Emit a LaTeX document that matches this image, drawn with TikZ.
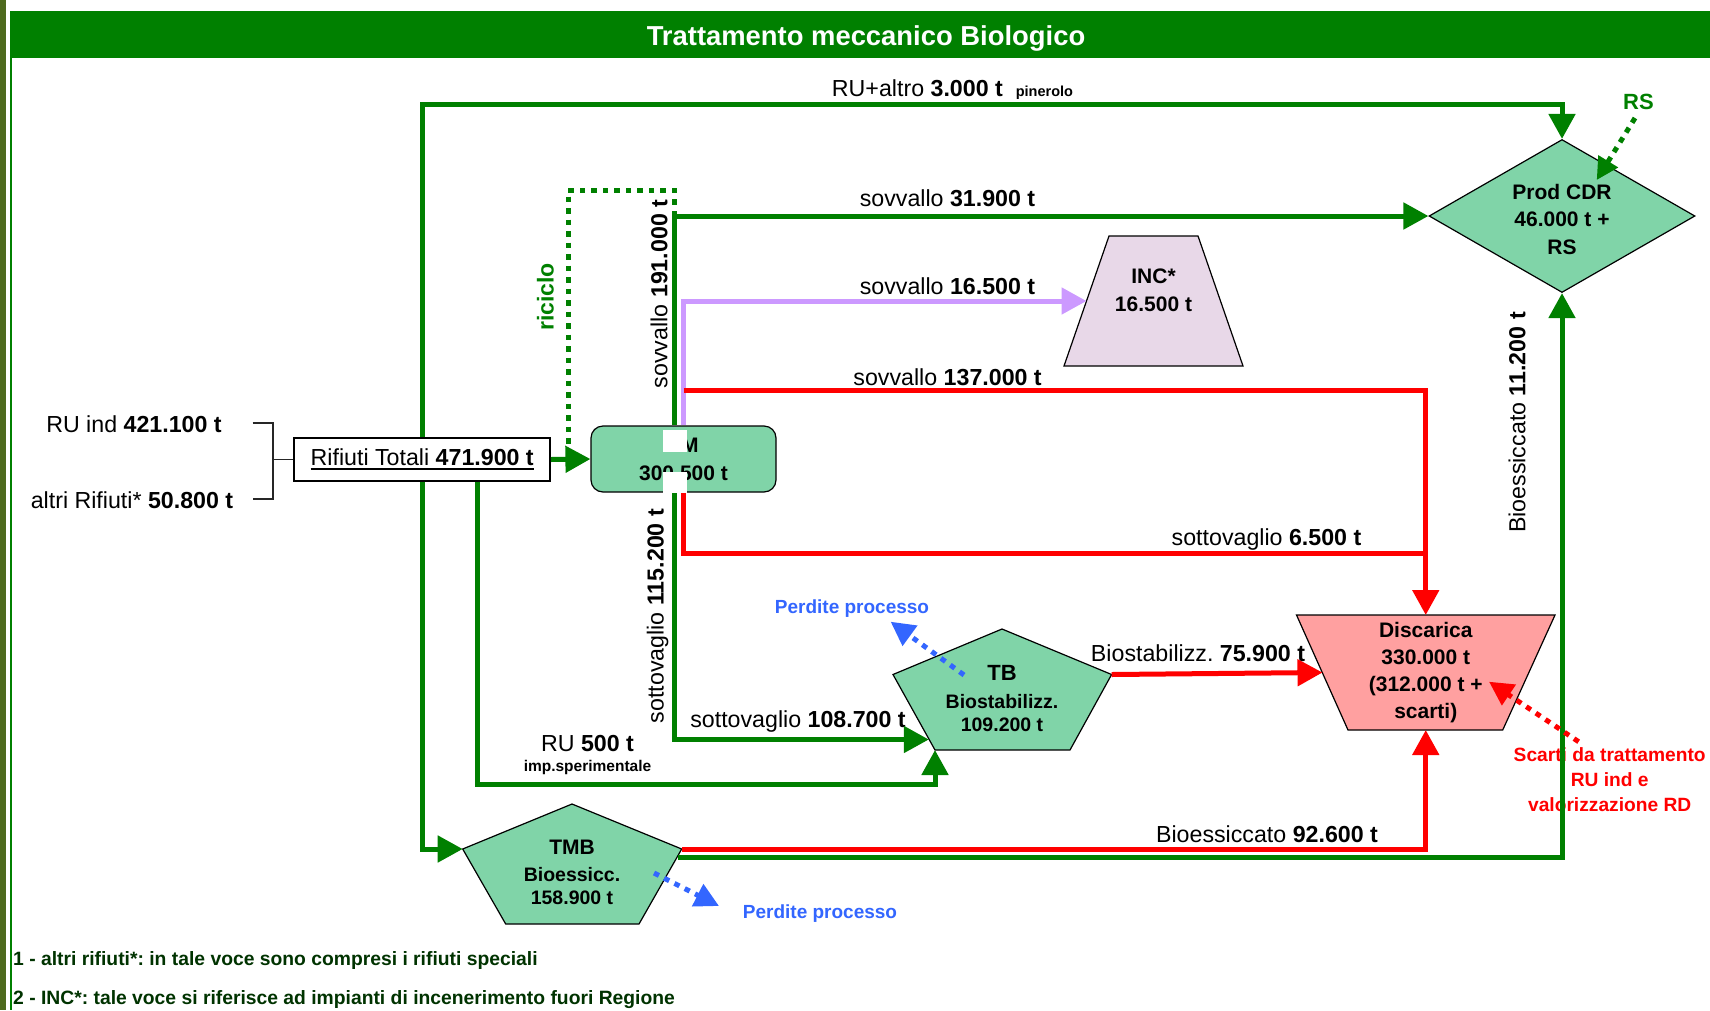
\documentclass[tikz,border=0pt]{standalone}
\usepackage{fontspec}
\setmainfont{Liberation Sans}
\usetikzlibrary{arrows.meta,shapes.geometric}

\definecolor{flowgreen}{RGB}{0,128,0}
\definecolor{plantgreen}{RGB}{128,212,168}
\definecolor{incpink}{RGB}{232,216,232}
\definecolor{discpink}{RGB}{255,160,160}
\definecolor{lossblue}{RGB}{51,102,255}
\definecolor{lilac}{RGB}{204,153,255}
\definecolor{borderolive}{RGB}{78,106,30}
\definecolor{notegreen}{RGB}{0,51,0}

\newcommand{\flowfont}{\fontsize{23.2}{27}\selectfont}
\newcommand{\plantfont}{\bfseries\fontsize{21}{27.5}\selectfont}
\newcommand{\thickunder}[1]{\leavevmode\vtop{\hbox{#1}\kern1.5pt\hrule height 2.5pt}}
\frenchspacing

\tikzset{
  flow/.style={line width=5pt},
  flowg/.style={flow, draw=flowgreen},
  flowr/.style={flow, draw=red},
  flowp/.style={flow, draw=lilac},
  flowtip/.style={-{Triangle[length=25pt,width=26pt]}},
  losstip/.style={-{Triangle[length=24pt,width=24pt]}},
  dotline/.style={line width=5pt, dash pattern=on 5.5pt off 6pt},
  plant/.style={draw=black, line width=1.2pt, fill=plantgreen},
  planttext/.style={font=\plantfont, align=center, inner sep=0pt},
  lbl/.style={font=\flowfont, inner sep=0pt, anchor=base},
  vlbl/.style={font=\flowfont, inner sep=0pt, rotate=90},
  losstext/.style={font=\bfseries\fontsize{19}{23}\selectfont, text=lossblue, inner sep=0pt, anchor=base},
  notetext/.style={font=\bfseries\fontsize{19.3}{23}\selectfont, text=notegreen, inner sep=0pt, anchor=base west},
  brk/.style={draw=black!85, line width=1.5pt}
}

\begin{document}
\begin{tikzpicture}[x=1pt, y=-1pt]
  \fill[white] (0,0) rectangle (1710,1010);
  \useasboundingbox (0,0) rectangle (1710,1010);
  % frame and title
  \fill[borderolive] (0,0) rectangle (6,1010);
  \fill[flowgreen] (9.5,11) rectangle (12,1010);
  \fill[flowgreen] (9.5,11) rectangle (1710,58);
  \node[text=white, font=\bfseries\fontsize{27.4}{30}\selectfont] (title) at (866,38.5) {Trattamento meccanico Biologico};

  % plants
  \node[draw=black, line width=1.5pt, fill=white, minimum width=256, minimum height=43, inner sep=0pt, font=\flowfont] (tot) at (422.2,459.5) {\thickunder{Rifiuti Totali \textbf{471.900 t}}};
  \node[plant, rounded corners=12pt, minimum width=185, minimum height=66, planttext, font=\bfseries\fontsize{21}{28}\selectfont] (tm) at (683.5,459) {TM\\300.500 t};
  \node[plant, diamond, aspect=1.75, minimum width=266, minimum height=153, planttext] (cdr) at (1562,216) {\rule{0pt}{22pt}Prod CDR\\46.000 t +\\RS};

  \coordinate (incW) at (1086.5,301);
  \draw[plant, fill=incpink] (1109,236) -- (1198,236) -- (1243,366) -- (1064,366) -- cycle;
  \node[planttext] (inc) at (1153.5,290.5) {INC*\\16.500 t};

  \coordinate (discN) at (1425.75,615);
  \coordinate (discS) at (1425.75,730);
  \coordinate (discW) at (1322.5,672.5);
  \draw[plant, fill=discpink] (1296.5,615) -- (1555,615) -- (1502.7,730) -- (1348,730) -- cycle;
  \node[planttext, font=\bfseries\fontsize{21}{27}\selectfont] (disc) at (1425.75,672.5) {Discarica\\330.000 t\\(312.000 t +\\scarti)};

  \coordinate (tbE) at (1111.6,674.5);
  \coordinate (tbLL) at (935,750);
  \coordinate (tbIn) at (928.8,739.5);
  \draw[plant] (1002,629) -- (tbE) -- (1070,750) -- (tbLL) -- (893,674.5) -- cycle;
  \node[planttext, font=\bfseries\fontsize{19.5}{23}\selectfont] (tb) at (1002,698.5) {{\fontsize{22}{23}\selectfont TB}\\[4.5pt]Biostabilizz.\\109.200 t};

  \coordinate (tmbW) at (462.7,849);
  \coordinate (tmbE) at (681.7,849.5);
  \coordinate (tmbE2) at (678,857.5);
  \draw[plant] (572,804) -- (681.7,849) -- (639,924) -- (505.7,924) -- (tmbW) -- cycle;
  \node[planttext, font=\bfseries\fontsize{19.5}{23}\selectfont] (tmb) at (572,872.5) {{\fontsize{21}{23}\selectfont TMB}\\[4pt]Bioessicc.\\158.900 t};

  % labels
  \node[lbl] (labru) at (952.5,96) {RU+altro \textbf{3.000 t}\hspace{13pt}{\fontsize{14.5}{14}\selectfont\bfseries pinerolo}};
  \node[lbl] (lab31) at (947.5,206.5) {sovvallo \textbf{31.900 t}};
  \node[lbl] (lab16) at (947.5,294) {sovvallo \textbf{16.500 t}};
  \node[lbl] (lab137) at (947.6,385) {sovvallo \textbf{137.000 t}};
  \node[lbl] (lab6) at (1266.5,545) {sottovaglio \textbf{6.500 t}};
  \node[lbl] (lab108) at (798,727) {sottovaglio \textbf{108.700 t}};
  \node[lbl] (lab500) at (587.5,751.5) {RU \textbf{500 t}};
  \node[lbl, font=\bfseries\fontsize{15.5}{18}\selectfont] (labimp) at (587.5,771.5) {imp.sperimentale};
  \node[lbl] (lab75) at (1198,661) {Biostabilizz. \textbf{75.900 t}};
  \node[lbl] (lab92) at (1267,842) {Bioessiccato \textbf{92.600 t}};
  \node[vlbl] (lab11) at (1517,422.5) {Bioessiccato \textbf{11.200 t}};
  \node[vlbl] (lab191) at (659,294) {sovvallo \textbf{191.000 t}};
  \node[vlbl] (lab115) at (657.5,616) {sottovaglio \textbf{115.200 t}};
  \node[vlbl, text=flowgreen, font=\bfseries\fontsize{23}{27}\selectfont] (labric) at (545.5,297) {riciclo};
  \node[lbl] (ruind) at (134,432) {RU ind \textbf{421.100 t}};
  \node[lbl] (altri) at (132,508) {altri Rifiuti* \textbf{50.800 t}};
  \node[losstext] (loss1) at (852,613) {Perdite processo};
  \node[losstext] (loss2) at (820,918) {Perdite processo};
  \node[lbl, text=flowgreen, font=\bfseries\fontsize{22}{26}\selectfont] (rs) at (1638.5,109) {RS};
  \node[text=red, font=\bfseries\fontsize{19.2}{25}\selectfont, align=center, inner sep=0pt] (scarti) at (1609.7,780) {Scarti da trattamento\\RU ind e\\valorizzazione RD};
  \node[notetext] (note1) at (13,965) {1 - altri rifiuti*: in tale voce sono compresi i rifiuti speciali};
  \node[notetext] (note2) at (13,1004) {2 - INC*: tale voce si riferisce ad impianti di incenerimento fuori Regione};

  % bracket of the inputs
  \coordinate (brkTop) at (252.5,423);
  \coordinate (brkBot) at (252.5,499);
  \coordinate (brkMid) at (273,459.5);
  \draw[brk] (brkTop) -| (brkMid |- brkBot) -- (brkBot);
  \draw[brk] (brkMid) -- (tot.west);

  % flows
  \coordinate (ruline) at (422.5,104.5);
  \coordinate (rusper) at (477.5,784.5);
  \coordinate (tmg) at (674.5,216);
  \coordinate (tmr) at (683.5,390.5);
  \coordinate (sotto6) at (0,553.5);
  \coordinate (ricEnd) at (568,447);
  \draw[flowg, flowtip] (tot.north -| ruline) |- (cdr.north |- ruline) -- (cdr.north);
  \draw[flowg, flowtip] (tot.south -| ruline) |- (tmbW);
  \draw[flowg, flowtip] (tot.south -| rusper) |- (tbLL |- rusper) -- (tbLL);
  \draw[flowg, flowtip] (tot.east) -- (tm.west);
  \draw[flowg, flowtip] (tm.north -| tmg) |- (cdr.west);
  \draw[flowg, dotline] (tmg) -- ++(0,-25.5) -| (ricEnd);
  \draw[flowp, flowtip] (tm.north -| tmr) |- (incW);
  \draw[flowr, flowtip] (tmr) -| (discN);
  \draw[flowr] (tm.south -| tmr) |- (discN |- sotto6);
  \draw[flowg, flowtip] (tm.south -| tmg) |- (tbIn);
  \draw[flowr, flowtip] (tbE) -- (discW);
  \draw[flowr, flowtip] (tmbE) -| (discS);
  \draw[flowg, flowtip] (tmbE2) -| (cdr.south);

  % losses and extra inputs
  \coordinate (tbLoss) at (964,675);
  \coordinate (tbLossTip) at (890.6,621.7);
  \coordinate (tmbLoss) at (654,873);
  \coordinate (tmbLossTip) at (719,906);
  \coordinate (rsStart) at (1635,118);
  \coordinate (rsTip) at (1596.7,180);
  \coordinate (scartiStart) at (1578.6,741.7);
  \coordinate (scartiTip) at (1489,681.7);
  \draw[dotline, draw=lossblue, losstip] (tbLoss) -- (tbLossTip);
  \draw[dotline, draw=lossblue, losstip] (tmbLoss) -- (tmbLossTip);
  \draw[dotline, draw=flowgreen, -{Triangle[length=22pt,width=22pt]}] (rsStart) -- (rsTip);
  \draw[dotline, draw=red, losstip] (scartiStart) -- (scartiTip);

  % white patches on the TM box
  \fill[white] (663,430) rectangle (687,452);
  \fill[white] (663,472) rectangle (687,493);
\end{tikzpicture}
\end{document}
